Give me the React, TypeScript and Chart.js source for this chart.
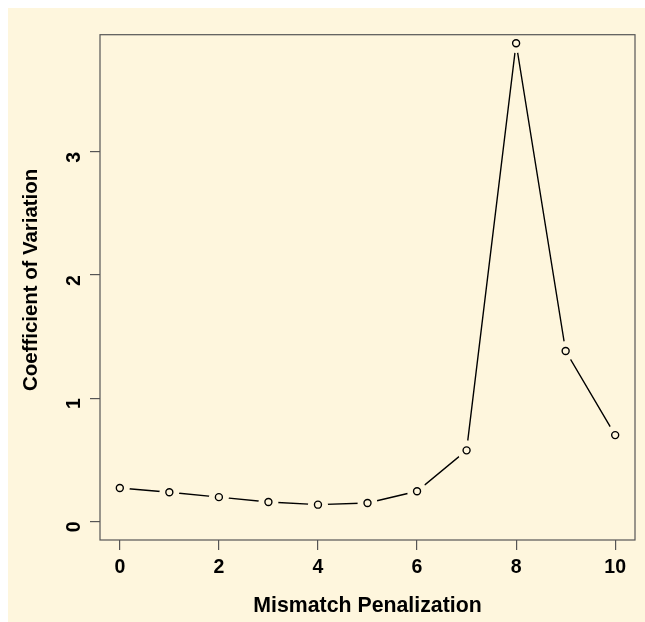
import React, { useEffect, useRef } from "react";
import { Chart, registerables } from "chart.js";

Chart.register(...registerables);

const penalization = [0, 1, 2, 3, 4, 5, 6, 7, 8, 9, 10];
const coefVariation = [0.27, 0.236, 0.196, 0.157, 0.135, 0.149, 0.244, 0.576, 3.883, 1.383, 0.7];
const xTickValues = [0, 2, 4, 6, 8, 10];
const yTickValues = [0, 1, 2, 3];
const xTitle = "Mismatch Penalization";
const yTitle = "Coefficient of Variation";

const BG = "#FEF6DD";
const FONT = "'Liberation Sans', Arial, Helvetica, sans-serif";

export default function App() {
  const ref = useRef<HTMLCanvasElement | null>(null);

  useEffect(() => {
    const canvas = ref.current!;
    const pts = penalization.map((x, i) => ({ x, y: coefVariation[i] }));

    const bgPlugin = {
      id: "bg",
      beforeDraw(chart: any) {
        const { ctx, width, height } = chart;
        ctx.save();
        ctx.fillStyle = BG;
        ctx.fillRect(0, 0, width, height);
        ctx.restore();
      },
      afterDatasetsDraw(chart: any) {
        const { ctx, chartArea } = chart;
        ctx.save();
        ctx.strokeStyle = "#555";
        ctx.lineWidth = 1.2;
        ctx.strokeRect(chartArea.left, chartArea.top, chartArea.right - chartArea.left, chartArea.bottom - chartArea.top);
        ctx.restore();
      },
      afterDraw(chart: any) {
        const { ctx, chartArea } = chart;
        ctx.save();
        ctx.translate(23.3, (chartArea.top + chartArea.bottom) / 2 - 7.5);
        ctx.rotate(-Math.PI / 2);
        ctx.font = `bold 20.4px ${FONT}`;
        ctx.fillStyle = "#000";
        ctx.textAlign = "center";
        ctx.textBaseline = "middle";
        ctx.fillText(yTitle, 0, 0);
        ctx.restore();
      },
    };

    const chart = new Chart(canvas, {
      type: "line",
      data: {
        datasets: [
          {
            data: pts,
            borderColor: "#000",
            borderWidth: 1.4,
            pointRadius: 10,
            pointBackgroundColor: BG,
            pointBorderColor: BG,
            pointBorderWidth: 0,
            tension: 0,
            order: 1,
          },
          {
            data: pts,
            showLine: false,
            pointRadius: 3.5,
            pointBackgroundColor: "rgba(0,0,0,0)",
            pointBorderColor: "#000",
            pointBorderWidth: 1.4,
            order: 0,
          },
        ],
      },
      options: {
        animation: false,
        responsive: false,
        devicePixelRatio: 1,
        layout: { padding: { top: 14.7, right: 7.5, left: 0, bottom: 0 } },
        plugins: { legend: { display: false }, tooltip: { enabled: false } },
        scales: {
          x: {
            type: "linear",
            min: -0.4,
            max: 10.4,
            afterBuildTicks: (s: any) => {
              s.ticks = xTickValues.map((v) => ({ value: v }));
            },
            afterFit: (s: any) => {
              s.height = 82;
            },
            ticks: {
              font: { family: FONT, size: 19.5, weight: "bold" },
              color: "#000",
              padding: 6,
              maxRotation: 0,
              autoSkip: false,
            },
            grid: { drawOnChartArea: false, drawTicks: true, tickLength: 10, color: "#555", lineWidth: 1.2 },
            border: { display: false },
            title: {
              display: true,
              text: xTitle,
              color: "#000",
              font: { family: FONT, size: 21.3, weight: "bold" },
              padding: { top: 0, bottom: 3.5 },
            },
          },
          y: {
            type: "linear",
            min: -0.152,
            max: 3.952,
            afterBuildTicks: (s: any) => {
              s.ticks = yTickValues.map((v) => ({ value: v }));
            },
            afterFit: (s: any) => {
              s.width = 92;
            },
            ticks: {
              font: { family: FONT, size: 19.5, weight: "bold" },
              color: "#000",
              padding: 15,
              minRotation: 90,
              maxRotation: 90,
              autoSkip: false,
            },
            grid: { drawOnChartArea: false, drawTicks: true, tickLength: 10, color: "#555", lineWidth: 1.2 },
            border: { display: false },
            title: { display: false },
          },
        },
      },
      plugins: [bgPlugin],
    } as any);

    return () => chart.destroy();
  }, []);

  return (
    <div style={{ position: "fixed", left: 8, top: 8, width: 637, height: 614 }}>
      <canvas ref={ref} width={637} height={614} />
    </div>
  );
}
